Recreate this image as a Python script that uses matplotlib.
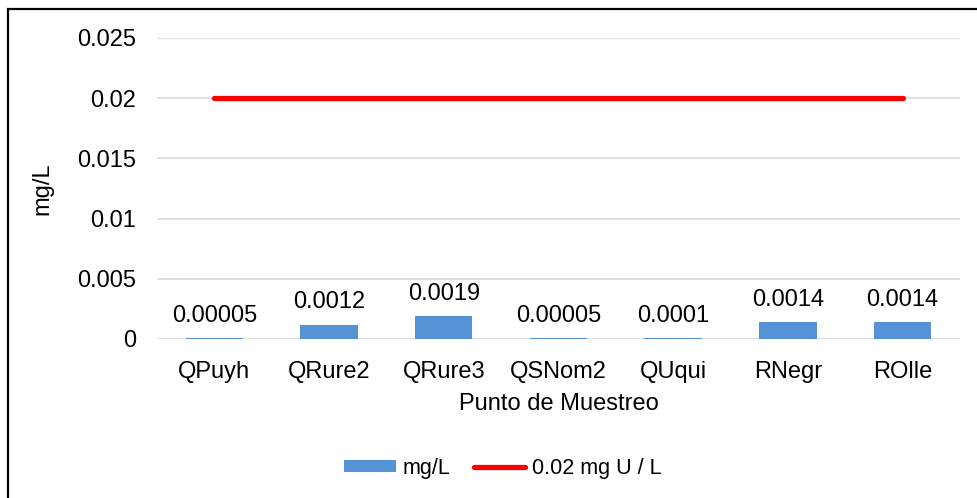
import numpy as np
import matplotlib.pyplot as plt
from matplotlib.patches import Rectangle

plt.rcParams['font.family'] = ['Liberation Sans', 'DejaVu Sans']

# data
puntos = ['QPuyh', 'QRure2', 'QRure3', 'QSNom2', 'QUqui', 'RNegr', 'ROlle']
valores = [0.00005, 0.0012, 0.0019, 0.00005, 0.0001, 0.0014, 0.0014]
etiquetas = ['0.00005', '0.0012', '0.0019', '0.00005', '0.0001', '0.0014', '0.0014']
limite = [0.02] * len(puntos)
yticks = [0, 0.005, 0.01, 0.015, 0.02, 0.025]
ytick_labels = ['0', '0.005', '0.01', '0.015', '0.02', '0.025']

fs = 17
fig = plt.figure(figsize=(9.78, 4.98), dpi=100)
ax = fig.add_axes([0.1605, 0.3193, 0.821, 0.6044])

x = np.arange(len(puntos))
bars = ax.bar(x, valores, width=0.5, color='#5592d6', label='mg/L', zorder=2)
line, = ax.plot(x, limite, color='#ff0000', lw=3.8, solid_capstyle='round',
                label='0.02 mg U / L', zorder=3)

for b, lab in zip(bars, etiquetas):
    ax.annotate(lab, (b.get_x() + b.get_width() / 2, b.get_height()),
                xytext=(0, 16), textcoords='offset points',
                ha='center', va='center', fontsize=fs)

ax.set_xlim(-0.5, len(puntos) - 0.5)
ax.set_ylim(0, 0.025)
ax.set_yticks(yticks)
ax.set_yticklabels(ytick_labels)
ax.set_xticks(x)
ax.set_xticklabels(puntos)
ax.tick_params(axis='both', length=0, labelsize=fs)
ax.tick_params(axis='y', pad=15)
ax.tick_params(axis='x', pad=16)
ax.grid(axis='y', color='#dde1e7', lw=1.5, zorder=0)
for s in ax.spines.values():
    s.set_visible(False)

ax.set_xlabel('Punto de Muestreo', fontsize=fs, labelpad=7)
ax.set_ylabel('mg/L', fontsize=fs, labelpad=17)

fig.legend([bars, line], ['mg/L', '0.02 mg U / L'], loc='center',
           bbox_to_anchor=(0.514, 0.06), ncol=2, frameon=False,
           fontsize=15.5, handlelength=2.4, handleheight=0.55, handletextpad=0.3,
           columnspacing=1.1)

# outer border (cropped on right and bottom)
fig.patches.append(Rectangle((8 / 978, -0.1), 1.2, (498 - 9) / 498 + 0.1,
                             transform=fig.transFigure, fill=False,
                             edgecolor='black', lw=1.6))

fig.savefig('out.png', dpi=100)
